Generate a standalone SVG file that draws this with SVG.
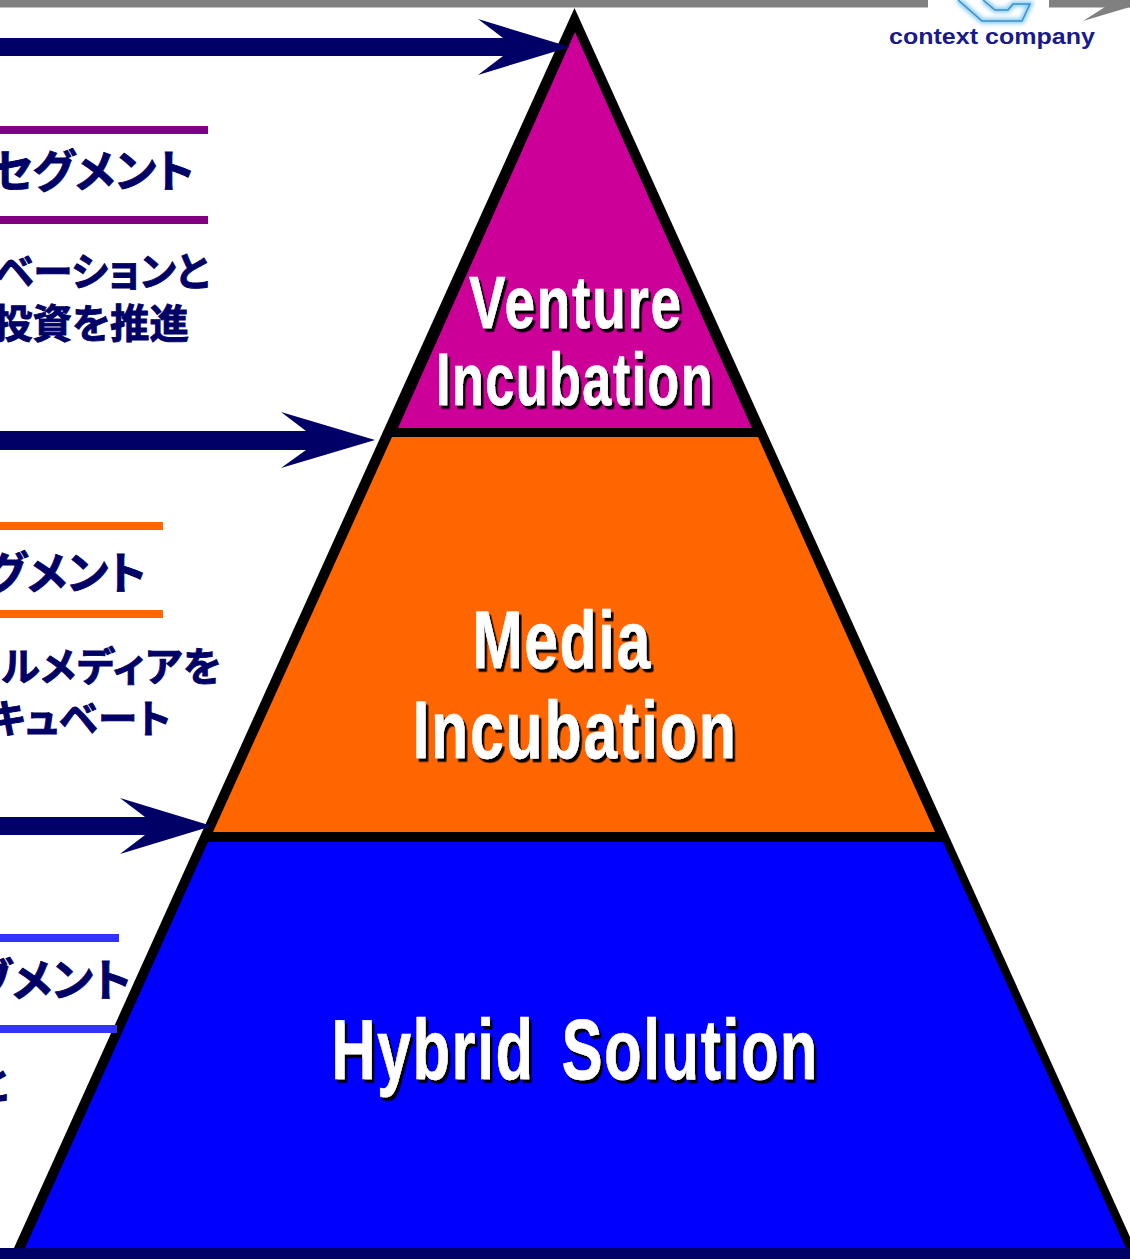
<svg xmlns="http://www.w3.org/2000/svg" width="1130" height="1259" viewBox="0 0 1130 1259">
<defs>
<style>
.jp{font-family:"Noto Sans CJK JP",sans-serif;font-weight:700;fill:#000066;stroke:#000066;stroke-width:.9;text-anchor:end;font-feature-settings:"palt"}
.t{font-size:45px}
.s{font-size:39.5px}
.p{font-family:"Liberation Sans",sans-serif;font-weight:700;text-anchor:middle;fill:#fff;stroke:#fff;stroke-width:.6;filter:url(#shadow)}
.arrow{fill:#000066}
</style>
<filter id="glow" x="-20%" y="-50%" width="140%" height="200%"><feGaussianBlur stdDeviation="2"/></filter>
<filter id="shadow" x="-5%" y="-10%" width="110%" height="125%"><feDropShadow dx="3.5" dy="3.5" stdDeviation="0.7" flood-color="#000" flood-opacity="1"/></filter>
</defs>
<rect width="1130" height="1259" fill="#fff"/>
<g id="header">
<rect x="0" y="0" width="928" height="7.5" fill="#808080"/>
<rect x="1049" y="0" width="81" height="7.5" fill="#808080"/>
<polygon points="1083,21 1105,7 1130,7" fill="#808080"/>
</g>
<g id="logo">
<path d="M958,0 L982,21 H1022 L1030,4 H1013 L1008,10 H995 L983,0" fill="none" stroke="#7cc8f0" stroke-width="5" filter="url(#glow)"/>
<path d="M958,0 L982,21 H1022 L1030,4 H1013 L1008,10 H995 L983,0" fill="none" stroke="#3f8fc8" stroke-width="1.5"/>
<text x="889" y="44" textLength="206" lengthAdjust="spacingAndGlyphs" font-family="'Liberation Sans',sans-serif" font-weight="700" font-size="22.5" fill="#1a1a8c">context company</text>
</g>
<g id="pyramid">
<polygon points="574.5,8 9,1259 1140,1259" fill="#000"/>
<rect x="0" y="1248" width="1130" height="11" fill="#000066"/>
</g>
<g id="segment-venture">
<rect x="0" y="126" width="208" height="8" fill="#800080"/>
<rect x="0" y="216" width="208" height="8" fill="#800080"/>
<text class="jp t" x="194" y="188">ベンチャーセグメント</text>
<text class="jp s" x="209" y="286">イノベーションと</text>
<text class="jp s" x="189" y="338">ベンチャー投資を推進</text>
</g>
<g id="segment-media">
<rect x="0" y="522" width="163" height="8" fill="#ff6600"/>
<rect x="0" y="610" width="163" height="8" fill="#ff6600"/>
<text class="jp t" x="146" y="590">メディアセグメント</text>
<text class="jp s" x="222" y="681" letter-spacing="1">ソーシャルメディアを</text>
<text class="jp s" x="171" y="733" letter-spacing="0.5">インキュベート</text>
</g>
<g id="segment-hybrid">
<rect x="0" y="934" width="119" height="8" fill="#3333ff"/>
<rect x="0" y="1025" width="117" height="8" fill="#3333ff"/>
<text class="jp t" x="131" y="997">ブメント</text>
<text class="jp s" x="8" y="1099">と</text>
</g>
<g id="tier-venture">
<polygon points="575,32 398,428 752,428" fill="#cc0099"/>
<text class="p" transform="translate(576,328) scale(0.74,1)" font-size="74" letter-spacing="2.5">Venture</text>
<text class="p" transform="translate(575,405) scale(0.705,1)" font-size="74" letter-spacing="2">Incubation</text>
</g>
<g id="tier-media">
<polygon points="392,437 758,437 935,832 213,832" fill="#ff6600"/>
<text class="p" transform="translate(562,668) scale(0.74,1)" font-size="82" letter-spacing="2">Media</text>
<text class="p" transform="translate(575,758) scale(0.74,1)" font-size="82" letter-spacing="2.5">Incubation</text>
</g>
<g id="tier-hybrid">
<polygon points="208,842 943,842 1126,1248 25,1248" fill="#0000ff"/>
<text class="p" transform="translate(575,1079) scale(0.715,1)" font-size="86" letter-spacing="2" word-spacing="12">Hybrid Solution</text>
</g>
<g id="connectors">
<path class="arrow" d="M0,38 H503 L478,19 L570,47 L478,75 L503,56 H0 Z"/>
<path class="arrow" d="M0,431 H306 L281,412 L375,440 L281,468 L306,450 H0 Z"/>
<path class="arrow" d="M0,817 H145 L120,798 L212,826 L120,854 L145,835 H0 Z"/>
</g>
</svg>
